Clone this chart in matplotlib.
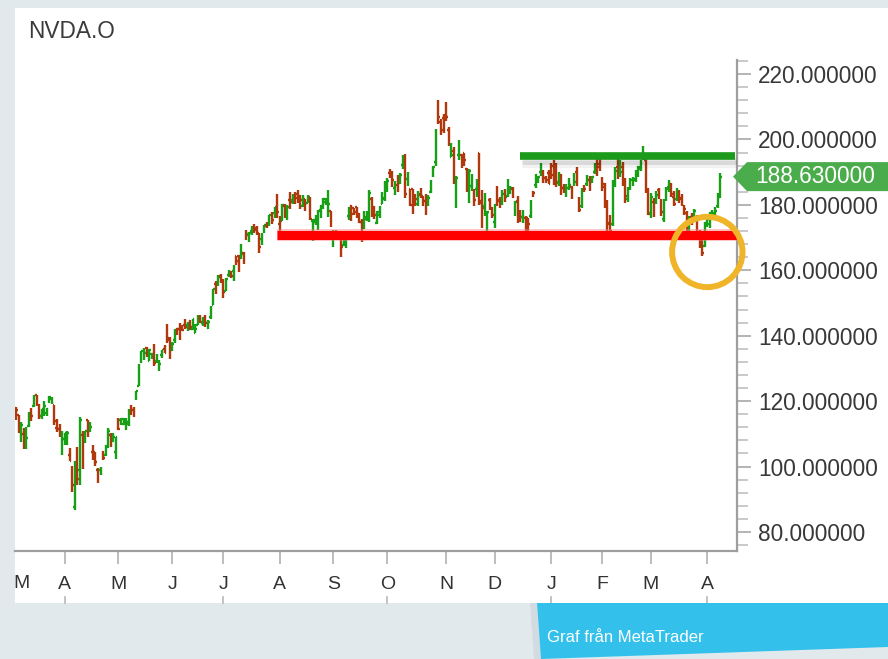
import numpy as np
import matplotlib
matplotlib.use("Agg")
import matplotlib.pyplot as plt
from matplotlib.collections import LineCollection
from matplotlib.patches import Rectangle, Polygon, Ellipse
from matplotlib.transforms import IdentityTransform, blended_transform_factory

plt.rcParams['font.family'] = ['Liberation Sans', 'DejaVu Sans']

# ---------------- data (daily OHLC, 2025-03-05 .. 2026-04-09) ----------------
opens = [
    118.0, 115.7, 111.3, 109.9, 106.9, 112.4, 117.0, 118.6, 122.0, 118.0,
    115.6, 116.0, 116.5, 119.9, 120.6, 118.7, 111.9, 111.5, 105.1, 108.5,
    107.0, 103.5, 98.9, 87.5, 103.8, 98.9, 109.7, 108.5, 114.1, 110.9,
    104.6, 104.5, 98.8, 98.8, 104.5, 103.5, 106.9, 109.7, 107.7, 104.5,
    113.1, 114.2, 112.9, 111.5, 113.1, 118.3, 117.4, 121.9, 124.6, 133.2,
    134.3, 136.2, 132.4, 134.3, 133.1, 132.2, 130.0, 134.2, 136.0, 142.2,
    138.7, 135.5, 138.8, 142.2, 142.2, 142.5, 143.2, 143.2, 144.6, 141.9,
    140.9, 143.4, 144.5, 144.0, 145.4, 142.5, 145.6, 149.3, 155.9, 156.0,
    158.4, 156.3, 153.7, 158.6, 158.8, 159.7, 164.3, 164.3, 163.7, 165.4,
    171.2, 171.1, 172.0, 173.6, 172.8, 171.3, 169.5, 172.2, 173.6, 174.0,
    176.1, 177.4, 182.9, 174.1, 175.2, 179.6, 176.3, 181.6, 181.6, 182.9,
    183.3, 182.6, 179.8, 181.9, 180.6, 182.4, 175.0, 174.9, 172.6, 178.4,
    180.1, 181.0, 178.1, 178.1, 170.0, 171.1, 170.6, 168.0, 167.6, 169.1,
    176.6, 179.7, 179.1, 179.2, 177.3, 174.8, 173.9, 175.8, 175.3, 181.9,
    179.4, 174.5, 176.9, 180.4, 182.0, 185.2, 189.6, 189.2, 185.1, 186.2,
    186.6, 192.2, 193.5, 187.9, 184.8, 184.8, 182.2, 180.2, 183.1, 182.8,
    181.1, 180.4, 183.8, 189.9, 193.1, 207.9, 205.2, 206.5, 208.1, 203.0,
    194.7, 196.4, 184.9, 195.1, 195.2, 195.7, 191.1, 182.9, 185.9, 183.0,
    184.8, 195.9, 181.2, 179.5, 174.9, 181.6, 179.0, 174.8, 181.8, 181.1,
    181.6, 183.9, 182.6, 184.8, 184.9, 180.3, 181.1, 177.9, 176.3, 176.1,
    176.0, 176.7, 183.9, 186.0, 187.9, 189.9, 190.0, 188.2, 189.6, 189.8,
    191.8, 190.6, 186.7, 189.1, 185.1, 183.2, 185.2, 185.5, 186.5, 189.9,
    181.3, 179.7, 185.5, 186.5, 187.5, 187.0, 190.1, 193.0, 191.5, 187.5,
    186.3, 179.7, 174.5, 174.0, 186.0, 191.6, 189.0, 191.7, 187.0, 181.9,
    185.2, 186.8, 187.5, 189.9, 191.0, 194.3, 193.7, 183.6, 177.5, 180.8,
    181.0, 184.4, 181.0, 175.8, 182.0, 185.4, 186.3, 182.5, 181.8, 183.7,
    182.1, 179.5, 177.4, 171.9, 176.4, 176.8, 176.1, 171.0, 168.1, 167.5,
    174.5, 174.0, 176.8, 177.0, 179.5, 182.5,
]
highs = [
    118.3, 115.7, 113.5, 111.9, 112.2, 116.8, 117.8, 122.0, 122.0, 119.0,
    117.6, 120.0, 117.9, 121.5, 121.3, 118.8, 114.4, 112.9, 110.9, 110.2,
    111.0, 105.6, 100.1, 101.8, 105.9, 115.1, 110.9, 111.0, 114.3, 113.6,
    106.5, 104.5, 99.5, 99.8, 104.8, 106.5, 111.9, 110.4, 110.2, 109.0,
    114.9, 114.9, 114.7, 114.7, 117.7, 118.7, 118.2, 123.0, 131.2, 135.4,
    136.3, 136.4, 135.9, 134.6, 137.4, 134.3, 132.7, 135.7, 137.3, 143.5,
    139.6, 138.1, 142.0, 142.4, 144.0, 143.3, 145.0, 144.3, 144.9, 145.2,
    143.6, 146.2, 146.2, 145.6, 146.2, 144.8, 149.2, 154.4, 156.7, 158.7,
    158.9, 157.2, 157.7, 160.0, 159.7, 161.7, 164.4, 164.8, 167.9, 165.5,
    172.4, 171.8, 173.4, 174.3, 173.4, 171.4, 171.3, 173.9, 174.7, 176.8,
    177.9, 179.4, 183.3, 176.5, 180.3, 180.3, 179.9, 183.9, 183.3, 183.8,
    184.5, 183.0, 183.0, 181.9, 182.9, 182.5, 175.6, 176.9, 178.5, 180.0,
    182.0, 182.0, 184.5, 178.2, 172.4, 172.4, 171.9, 170.0, 170.9, 170.9,
    179.3, 180.0, 179.1, 179.3, 177.5, 175.6, 178.1, 178.1, 184.6, 182.4,
    179.8, 178.2, 179.8, 184.0, 187.4, 188.1, 191.1, 190.4, 187.2, 189.1,
    189.6, 195.3, 195.6, 190.1, 184.8, 184.9, 183.3, 184.1, 185.2, 182.8,
    183.4, 183.0, 187.5, 192.0, 203.2, 212.2, 206.2, 207.9, 211.3, 203.9,
    198.9, 197.6, 188.7, 199.9, 195.4, 195.9, 191.4, 191.0, 189.3, 184.8,
    187.9, 196.0, 184.6, 183.5, 178.2, 182.0, 179.3, 180.3, 185.7, 182.5,
    184.5, 184.7, 188.0, 185.7, 185.5, 181.3, 182.8, 178.4, 178.5, 176.6,
    176.1, 181.5, 184.3, 189.3, 188.9, 192.7, 190.6, 188.7, 190.6, 192.9,
    193.6, 192.9, 190.0, 189.5, 186.3, 186.5, 188.1, 185.7, 189.7, 191.5,
    182.4, 185.0, 186.1, 189.0, 188.8, 188.9, 192.8, 194.5, 193.9, 188.5,
    186.7, 181.5, 177.0, 187.5, 191.5, 194.3, 193.8, 193.2, 188.1, 185.4,
    188.3, 188.6, 190.6, 191.9, 193.8, 198.1, 194.4, 185.0, 183.5, 182.1,
    184.2, 185.1, 181.8, 181.9, 185.6, 187.7, 186.8, 184.2, 185.0, 184.5,
    183.4, 180.0, 178.0, 176.5, 177.6, 178.6, 176.8, 172.3, 170.9, 174.9,
    176.4, 177.9, 178.3, 179.3, 183.6, 189.6,
]
lows = [
    114.3, 110.2, 107.6, 105.5, 105.5, 112.2, 113.8, 118.1, 118.4, 114.5,
    114.4, 115.6, 115.4, 119.3, 119.2, 112.7, 110.7, 109.1, 103.6, 106.5,
    106.7, 101.8, 92.1, 86.6, 94.5, 94.4, 99.2, 107.1, 109.1, 110.5,
    102.1, 100.1, 95.0, 97.3, 102.0, 103.1, 105.8, 106.0, 107.4, 102.2,
    111.3, 112.7, 112.6, 111.1, 112.3, 115.9, 115.2, 120.3, 124.6, 131.7,
    132.7, 133.5, 132.4, 132.9, 130.6, 131.6, 129.2, 133.3, 134.8, 137.9,
    132.9, 135.4, 137.9, 140.1, 138.8, 141.5, 141.9, 141.5, 141.8, 141.8,
    140.9, 143.2, 143.8, 143.1, 142.7, 142.0, 145.1, 149.3, 152.6, 155.1,
    156.2, 151.5, 153.6, 157.8, 157.6, 156.6, 161.6, 159.5, 163.5, 161.9,
    169.2, 168.6, 170.9, 171.3, 170.9, 165.3, 167.6, 171.3, 172.9, 173.6,
    174.3, 176.1, 175.9, 170.9, 175.1, 175.9, 175.5, 178.8, 180.4, 180.3,
    180.7, 178.8, 179.4, 178.0, 180.6, 175.5, 168.8, 173.8, 172.3, 175.9,
    178.7, 179.9, 176.4, 173.1, 167.2, 169.2, 169.4, 164.1, 167.5, 166.7,
    175.5, 175.2, 176.9, 176.1, 174.4, 168.6, 172.6, 175.2, 174.9, 176.2,
    175.8, 174.3, 175.9, 180.3, 181.3, 183.9, 188.1, 185.4, 182.9, 184.0,
    186.5, 191.1, 182.1, 185.9, 179.7, 177.3, 179.8, 179.8, 182.0, 179.8,
    176.8, 179.8, 183.5, 188.4, 191.9, 204.8, 201.4, 202.1, 205.6, 197.9,
    194.6, 186.4, 178.9, 193.8, 191.3, 191.9, 183.9, 180.6, 184.3, 179.7,
    182.5, 179.9, 172.9, 176.5, 169.6, 178.5, 176.0, 172.9, 179.7, 179.1,
    179.9, 180.9, 182.4, 183.3, 182.0, 176.6, 174.6, 174.8, 174.6, 170.3,
    171.8, 176.0, 182.4, 185.3, 186.6, 188.8, 186.7, 186.6, 186.5, 188.0,
    186.1, 185.6, 185.9, 183.0, 183.6, 182.4, 184.4, 181.8, 185.7, 185.9,
    177.9, 179.0, 183.8, 185.9, 184.3, 186.6, 189.3, 188.8, 190.2, 184.1,
    179.1, 171.0, 171.2, 173.6, 185.4, 187.8, 188.5, 185.8, 180.5, 180.9,
    184.6, 185.7, 186.9, 188.5, 190.3, 193.6, 183.7, 176.8, 176.0, 176.2,
    180.3, 181.9, 176.5, 174.9, 181.3, 183.8, 182.3, 179.5, 181.2, 180.6,
    179.8, 176.9, 172.0, 171.3, 173.8, 175.2, 170.7, 166.9, 164.3, 167.0,
    173.2, 172.8, 175.6, 176.2, 179.0, 182.1,
]
closes = [
    117.3, 110.6, 112.7, 107.0, 108.8, 115.7, 115.6, 121.7, 119.5, 115.4,
    117.5, 118.5, 117.7, 121.4, 120.7, 113.8, 111.4, 109.7, 108.4, 110.2,
    110.4, 101.8, 94.3, 97.6, 96.3, 114.3, 107.6, 110.9, 110.7, 112.2,
    104.5, 101.5, 96.9, 98.9, 102.7, 106.4, 111.0, 108.7, 109.0, 108.9,
    111.6, 114.5, 113.8, 113.5, 117.1, 117.4, 116.7, 123.0, 129.9, 135.3,
    134.8, 135.4, 135.6, 134.4, 131.8, 132.8, 131.3, 135.5, 134.8, 139.2,
    135.1, 137.4, 141.2, 141.9, 140.0, 141.7, 142.6, 144.0, 142.8, 145.0,
    142.0, 144.7, 144.1, 145.5, 143.9, 144.2, 147.9, 154.3, 155.0, 157.8,
    158.0, 153.3, 157.3, 159.3, 158.2, 160.0, 162.9, 160.0, 164.9, 164.1,
    170.7, 171.4, 173.0, 172.4, 171.4, 167.0, 170.8, 173.7, 173.5, 176.8,
    175.5, 179.3, 177.9, 173.7, 180.0, 178.3, 179.4, 180.8, 182.7, 182.1,
    183.2, 181.6, 182.0, 180.5, 182.0, 175.6, 175.4, 175.0, 178.0, 179.8,
    181.8, 181.6, 180.2, 174.2, 170.8, 170.6, 171.7, 167.0, 168.3, 170.8,
    177.3, 177.2, 177.8, 177.8, 174.9, 170.3, 176.2, 176.7, 183.6, 178.4,
    177.0, 177.7, 178.2, 181.9, 186.6, 187.2, 188.9, 187.6, 185.5, 185.0,
    189.1, 192.6, 183.2, 188.3, 180.0, 179.8, 181.8, 183.2, 182.6, 181.2,
    180.3, 182.2, 186.3, 191.5, 201.0, 207.0, 202.9, 202.5, 206.9, 198.7,
    195.2, 188.1, 188.2, 199.1, 193.2, 193.8, 186.9, 190.2, 186.6, 181.4,
    186.5, 180.6, 178.9, 182.6, 177.8, 180.3, 177.0, 179.9, 181.5, 179.6,
    183.4, 182.4, 185.6, 185.0, 183.8, 180.9, 175.0, 176.3, 177.7, 170.9,
    174.1, 181.0, 183.7, 189.2, 188.6, 190.5, 188.2, 187.5, 186.5, 189.0,
    188.5, 187.0, 189.5, 185.0, 184.5, 185.0, 186.0, 182.5, 187.0, 186.0,
    178.5, 183.0, 184.8, 187.7, 186.5, 188.5, 191.5, 192.5, 191.1, 185.6,
    180.3, 174.2, 172.0, 185.4, 190.5, 188.5, 190.0, 186.9, 182.8, 184.8,
    187.5, 187.9, 189.8, 191.5, 192.8, 195.5, 184.9, 177.2, 182.5, 180.0,
    183.0, 183.3, 177.8, 181.0, 184.8, 186.0, 183.2, 180.3, 183.0, 181.8,
    180.4, 178.6, 172.7, 175.6, 175.1, 178.0, 171.2, 167.5, 165.2, 174.4,
    175.8, 177.4, 177.6, 178.1, 182.1, 188.63,
]

month_tick_idx = [19, 40, 61, 81, 103, 124, 145, 168, 187, 209, 229, 248, 270]
month_labels = ['A', 'M', 'J', 'J', 'A', 'S', 'O', 'N', 'D', 'J', 'F', 'M', 'A']
first_label = 'M'
quarter_idx = [19, 81, 145, 209, 270]

support_level = 170.8
support_start = 102
resistance_level = 195.0
resistance_start = 197

symbol = 'NVDA.O'
source_text = 'Graf från MetaTrader'

# ---------------- figure ----------------
W, H = 888, 659
fig = plt.figure(figsize=(W / 100, H / 100), dpi=100, facecolor='#e1e9ed')
ident = IdentityTransform()

def px(x, y):
    return x, H - y

# white panel (behind everything)
fig.patches.append(Rectangle(px(15, 603), W - 15, 603 - 8, transform=ident,
                             facecolor='white', edgecolor='none', zorder=-5))

ax = fig.add_axes([15 / W, 1 - 551 / H, (737 - 15) / W, (551 - 60) / H])
ax.set_zorder(1)
ax.set_facecolor('none')

n = len(closes)
o = np.array(opens); h = np.array(highs); l = np.array(lows); c = np.array(closes)
up = c >= o
green = '#16a016'
red = '#b0380c'

segs = []
cols = []
for i in range(n):
    col = green if up[i] else red
    segs.append([(i, l[i]), (i, h[i])])
    segs.append([(i - 0.6, o[i]), (i, o[i])])
    segs.append([(i, c[i]), (i + 0.6, c[i])])
    cols += [col] * 3
ax.add_collection(LineCollection(segs, colors=cols, linewidths=1.7,
                                 capstyle='butt', zorder=3))

xmin, xmax = -0.4, 281.6
ax.set_xlim(xmin, xmax)
ax.set_ylim(74.19, 224.28)

# support line (red, soft edges)
ax.plot([support_start, xmax], [support_level] * 2, color='#ff8080', lw=8.5,
        alpha=0.5, solid_capstyle='butt', zorder=4)
ax.plot([support_start, xmax], [support_level] * 2, color='#ff0000', lw=6.5,
        solid_capstyle='butt', zorder=4)
# resistance line (green with soft shadow)
res_end = 280.9
ax.plot([resistance_start + 0.5, res_end + 0.3], [resistance_level - 1.5] * 2,
        color='#000000', lw=5, alpha=0.10, solid_capstyle='butt', zorder=4)
ax.plot([resistance_start + 0.5, res_end + 0.3], [resistance_level - 2.4] * 2,
        color='#000000', lw=5, alpha=0.05, solid_capstyle='butt', zorder=4)
ax.plot([resistance_start, res_end], [resistance_level] * 2, color='#1c9a1c',
        lw=5.5, solid_capstyle='butt', zorder=5)

# highlight circle around the latest dip
imin = int(np.argmin(l[200:])) + 200
ax.add_patch(Ellipse((imin + 2.0, l[imin] + 1.3), 27.5, 21.5, fill=False,
                     edgecolor='#f0b429', lw=4.3, clip_on=False, zorder=6))

# spines
for s in ['left', 'top']:
    ax.spines[s].set_visible(False)
for s in ['bottom', 'right']:
    ax.spines[s].set_color('#9e9e9e')
    ax.spines[s].set_linewidth(1.6)

# y axis
ax.yaxis.tick_right()
ax.set_yticks(np.arange(80, 221, 20))
ax.set_yticks(np.arange(76, 225, 4), minor=True)
ax.set_yticklabels([f'{v:.6f}' for v in np.arange(80, 221, 20)])
ax.tick_params(axis='y', which='major', length=10, width=1.2, color='#a8a8a8',
               pad=5, labelsize=16.3, labelcolor='#383838')
ax.tick_params(axis='y', which='minor', length=8, width=1.2, color='#c0c0c0')

# x axis
ax.set_xticks(month_tick_idx)
ax.set_xticklabels(month_labels)
ax.tick_params(axis='x', which='major', length=9, width=1.2, color='#b0b0b0',
               pad=9, labelsize=14, labelcolor='#333333')
ax.text(0.0095, -0.0655, first_label, transform=ax.transAxes, ha='center',
        va='center', fontsize=14, color='#333333')

# quarter marks at panel bottom
qtr = blended_transform_factory(ax.transData, fig.transFigure)
for q in quarter_idx:
    ax.plot([q, q], [1 - 603 / H, 1 - 597 / H], transform=qtr, color='#b8b8b8',
            lw=1.2, clip_on=False)

# title
fig.text(28 / W, 1 - 32 / H, symbol, ha='left', va='center', fontsize=16.3,
         color='#3a3a3a')

# last-price tag
yc = ax.transData.transform((0, closes[-1]))[1]
tag = Polygon([(733, yc), (747, yc + 14.5), (W, yc + 14.5), (W, yc - 14.5),
               (747, yc - 14.5)], closed=True, transform=ident,
              facecolor='#4aac4a', edgecolor='none', zorder=10)
fig.patches.append(tag)
fig.text(755 / W, yc / H, f'{closes[-1]:.6f}', ha='left', va='center',
         fontsize=16.3, color='white', zorder=11)

# source banner
shadow = Polygon([px(530, 603), px(537, 603), px(541, 659), px(534, 659)],
                 closed=True, transform=ident, facecolor='#c9d3d9',
                 edgecolor='none', alpha=0.6, zorder=2)
fig.patches.append(shadow)
banner = Polygon([px(537, 603), px(W, 603), px(W, 647), px(541, 659)],
                 closed=True, transform=ident, facecolor='#33c1ec',
                 edgecolor='none', zorder=3)
fig.patches.append(banner)
fig.text(547 / W, 1 - 638 / H, source_text, ha='left', va='center',
         fontsize=12, color='white', zorder=4)

fig.savefig('out.png', dpi=100, facecolor=fig.get_facecolor())
